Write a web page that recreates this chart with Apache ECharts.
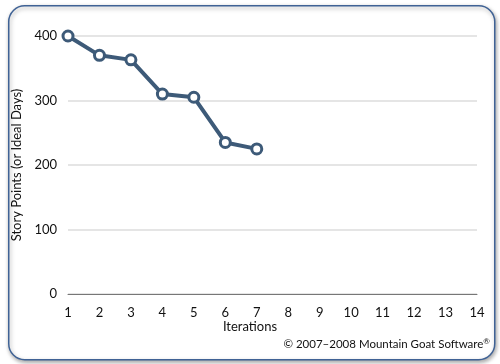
<!DOCTYPE html>
<html><head><meta charset="utf-8">
<script src="https://cdn.jsdelivr.net/npm/echarts@6/dist/echarts.min.js"></script>
<style>html,body{margin:0;padding:0;background:#fff}#c{width:500px;height:364px}</style>
</head><body><div id="c"></div>
<script>
const iterations = [1, 2, 3, 4, 5, 6, 7];
const remaining = [400, 370, 363, 310, 305, 235, 225];
const xTicks = [1, 14];
const yTicks = [0, 400, 100];
const chart = echarts.init(document.getElementById('c'));
const font = 'Lato, "Open Sans", sans-serif';
chart.setOption({
  animation: false,
  graphic: [{
    type: 'rect', left: 8, top: 5, z: -10,
    shape: { width: 486, height: 354, r: 16 },
    style: { fill: '#fff', stroke: '#3f6295', lineWidth: 1.5, shadowBlur: 4, shadowOffsetX: 1, shadowOffsetY: 2, shadowColor: 'rgba(0,0,0,0.35)' }
  }, {
    type: 'text', x: 250, y: 327,
    style: { text: 'Iterations', font: '13px ' + font, fill: '#111', align: 'center', verticalAlign: 'middle' }
  }, {
    type: 'text', x: 490, y: 344,
    style: {
      text: '© 2007–2008 Mountain Goat Software{s|®}',
      font: '11.5px ' + font, fill: '#111', align: 'right', verticalAlign: 'middle',
      rich: { s: { fontSize: 8, verticalAlign: 'top', padding: [0, 0, 6, 0], fontFamily: font } }
    }
  }],
  grid: { left: 68, right: 23, top: 36, bottom: 70 },
  xAxis: {
    type: 'value', min: xTicks[0], max: xTicks[1], interval: 1,
    axisLine: { show: true, lineStyle: { color: '#777', width: 1 } },
    axisTick: { show: false },
    splitLine: { show: false },
    axisLabel: { fontSize: 13, fontFamily: font, color: '#111', margin: 12 }
  },
  yAxis: {
    type: 'value', min: yTicks[0], max: yTicks[1], interval: yTicks[2],
    name: 'Story Points (or Ideal Days)', nameLocation: 'middle', nameGap: 40,
    nameTextStyle: { fontSize: 13, fontFamily: font, color: '#111' },
    axisLine: { show: false }, axisTick: { show: false },
    splitLine: { lineStyle: { color: '#ddd', width: 1.5 } },
    axisLabel: { fontSize: 13, fontFamily: font, color: '#111', margin: 11 }
  },
  series: [{
    type: 'line',
    data: iterations.map((x, i) => [x, remaining[i]]),
    symbol: 'circle', symbolSize: 10,
    lineStyle: { color: '#3d5a78', width: 4 },
    itemStyle: { color: '#fff', borderColor: '#3d5a78', borderWidth: 3 },
    z: 5
  }]
});
</script></body></html>
